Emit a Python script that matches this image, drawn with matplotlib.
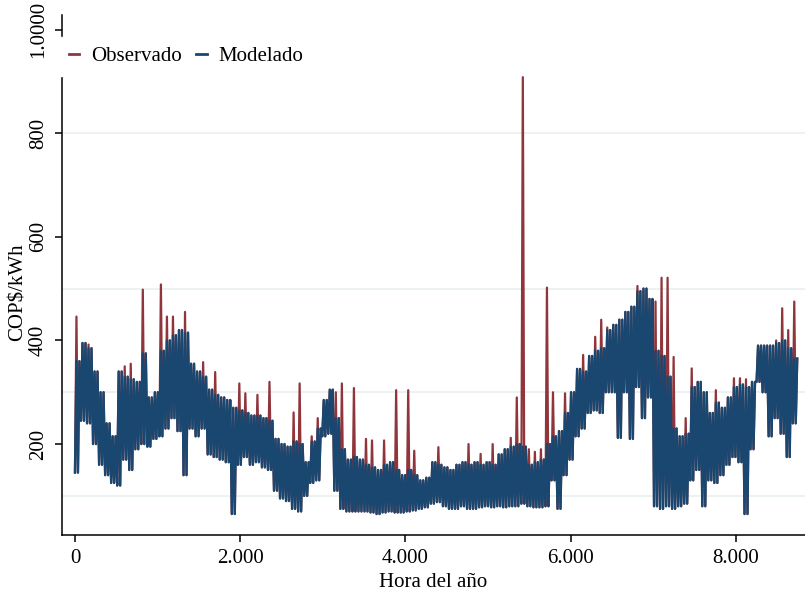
import numpy as np
import matplotlib
matplotlib.use("Agg")
import matplotlib.pyplot as plt

# Precio horario, leido del grafico en bloques de 73 horas (120 bloques = 8760 h)
# para cada bloque: minimo y maximo del modelado, maximo del observado
BLOCK_HOURS = 73
mod_low = [145, 245, 240, 200, 160, 140, 125, 120, 170, 150,
           190, 200, 195, 210, 215, 230, 250, 225, 140, 230,
           215, 230, 180, 175, 170, 165, 65, 160, 175, 160,
           165, 155, 150, 110, 95, 90, 75, 70, 100, 125,
           130, 215, 220, 110, 75, 70, 70, 70, 70, 68,
           65, 68, 70, 68, 68, 70, 72, 75, 78, 85,
           88, 80, 75, 75, 80, 75, 75, 78, 80, 78,
           80, 78, 80, 80, 85, 80, 78, 78, 80, 130,
           75, 140, 170, 215, 230, 260, 265, 260, 300, 300,
           212, 300, 210, 310, 250, 290, 80, 75, 80, 75,
           80, 85, 130, 150, 80, 130, 125, 140, 160, 175,
           165, 65, 190, 320, 300, 215, 250, 220, 175, 240]
mod_high = [360, 395, 385, 340, 300, 240, 215, 340, 330, 325,
            320, 375, 290, 300, 380, 400, 410, 420, 415, 355,
            340, 330, 305, 295, 290, 285, 270, 265, 260, 255,
            255, 250, 245, 210, 200, 195, 205, 200, 165, 205,
            230, 285, 305, 250, 190, 170, 175, 170, 160, 155,
            150, 160, 165, 150, 140, 150, 140, 130, 135, 165,
            160, 155, 150, 160, 165, 160, 165, 160, 165, 160,
            180, 190, 195, 200, 195, 160, 165, 170, 200, 215,
            225, 260, 300, 345, 340, 370, 380, 385, 420, 430,
            440, 455, 465, 495, 500, 480, 380, 370, 330, 230,
            215, 220, 310, 320, 300, 260, 280, 270, 290, 310,
            315, 310, 320, 390, 390, 390, 395, 400, 385, 365]
obs_high = [446, 395, 392, 340, 300, 240, 215, 340, 350, 355,
            320, 498, 290, 300, 508, 446, 446, 420, 455, 355,
            340, 358, 305, 339, 290, 285, 270, 317, 298, 255,
            295, 250, 320, 210, 200, 195, 261, 317, 165, 215,
            250, 285, 305, 300, 317, 170, 308, 170, 210, 207,
            150, 207, 165, 304, 140, 304, 187, 130, 135, 165,
            194, 155, 150, 160, 165, 200, 165, 181, 165, 200,
            180, 190, 212, 290, 908, 190, 185, 190, 502, 300,
            225, 298, 300, 345, 372, 370, 407, 440, 425, 430,
            440, 455, 465, 505, 500, 480, 475, 521, 521, 368,
            215, 250, 346, 320, 300, 260, 304, 270, 290, 327,
            327, 325, 320, 390, 390, 390, 400, 462, 420, 475]

x_ticks = [0, 2000, 4000, 6000, 8000]
x_labels = ["0", "2.000", "4.000", "6.000", "8.000"]
y_ticks = [200, 400, 600, 800, 1000]
y_labels = ["200", "400", "600", "800", "1.0000"]
y_grid = [100, 300, 500, 800]

RED = "#90353B"
NAVY = "#1A476F"


def block_series(low, peak, high):
    # four strokes per block: low, peak, low, high (hour offsets 0/18/36/54)
    start = np.arange(len(low)) * BLOCK_HOURS
    step = BLOCK_HOURS // 4
    hours = np.column_stack([start, start + step, start + 2 * step, start + 3 * step]).ravel()
    vals = np.column_stack([low, peak, low, high]).ravel()
    return hours, vals


def main():
    plt.rcParams["font.family"] = ["Liberation Serif", "DejaVu Serif"]
    plt.rcParams["font.size"] = 15

    fig = plt.figure(figsize=(8.05, 5.97), dpi=100)
    ax = fig.add_axes([62 / 805, 1 - 535 / 597, 1 - 62 / 805, 520 / 597])

    for g in y_grid:
        ax.axhline(g, color="#EAF0F1", lw=1.3, zorder=0)

    h_obs, v_obs = block_series(mod_low, obs_high, mod_high)
    h_mod, v_mod = block_series(mod_low, mod_high, mod_high)
    ax.plot(h_obs, v_obs, color=RED, lw=1.6, label="Observado", zorder=2)
    ax.plot(h_mod, v_mod, color=NAVY, lw=1.7, label="Modelado", zorder=3)

    ax.set_xlim(-157, 8835)
    ax.set_ylim(24.5, 1028)

    ax.set_xticks(x_ticks)
    ax.set_xticklabels(x_labels)
    ax.set_yticks(y_ticks)
    ax.set_yticklabels(y_labels, rotation=90, va="center")
    ax.tick_params(direction="out", length=5, width=1.1, pad=5, colors="black")

    for side in ["top", "right"]:
        ax.spines[side].set_visible(False)
    for side in ["left", "bottom"]:
        ax.spines[side].set_linewidth(1.1)

    ax.set_xlabel("Hora del año", labelpad=4)
    ax.set_ylabel("COP\\$/kWh")
    ax.yaxis.set_label_coords(-0.046, 0.467)

    # white legend box hides a piece of the y axis, as in the original
    leg = ax.legend(loc="upper left", bbox_to_anchor=(-0.004, 0.958), ncol=2,
                    frameon=True, fancybox=False, framealpha=1,
                    facecolor="white", edgecolor="white",
                    handlelength=0.5, handletextpad=0.55, columnspacing=0.7,
                    borderpad=0.48, borderaxespad=0)
    for line in leg.get_lines():
        line.set_linewidth(2)

    fig.savefig("out.png", dpi=100)


if __name__ == "__main__":
    main()
